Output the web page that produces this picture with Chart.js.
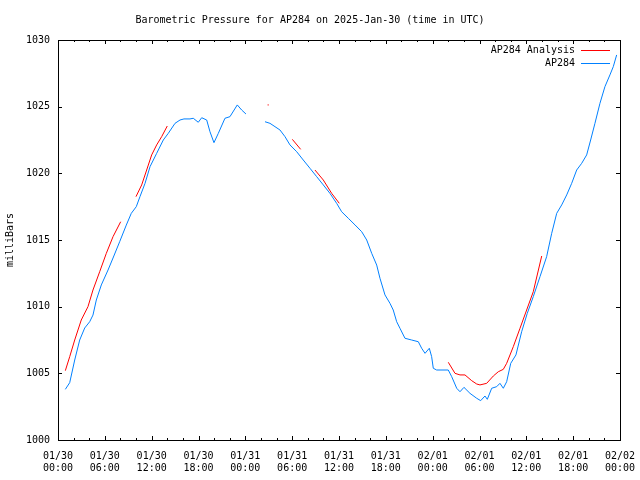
<!DOCTYPE html>
<html>
<head>
<meta charset="utf-8">
<script src="https://cdn.jsdelivr.net/npm/chart.js@4.4.0/dist/chart.umd.min.js"></script>
<style>
  html, body { margin: 0; padding: 0; background: #fff; }
  canvas { display: block; }
</style>
</head>
<body>
<canvas id="chart" width="640" height="480"></canvas>
<script>
// Tick labels, one per 6 hours
const tickDates = ['01/30', '01/30', '01/30', '01/30', '01/31', '01/31', '01/31', '01/31', '02/01', '02/01', '02/01', '02/01', '02/02'];
const tickTimes = ['00:00', '06:00', '12:00', '18:00', '00:00', '06:00', '12:00', '18:00', '00:00', '06:00', '12:00', '18:00', '00:00'];

// AP284 station readings (hours since 01/30 00:00 UTC, millibars), null = gap
const stationHours = [0.94, 1.5, 2.14, 2.78, 3.42, 4.06, 4.48, 4.91, 5.55, 6.41, 7.05, 7.9, 8.75, 9.39, 10.03, 10.5, 11.15, 11.79, 12.64, 13.49, 14.13, 14.99, 15.63, 16.14, 16.91, 17.33, 17.97, 18.41, 19.05, 19.47, 19.98, 20.54, 21.39, 22.03, 22.97, 23.53, 24.08,
  25.3,
  26.52, 27.16, 27.8, 28.44, 29.08, 29.72, 30.58, 31.42, 32.28, 33.14, 33.99, 34.84, 35.7, 36.34, 37.19, 38.05, 38.91, 39.55, 40.19, 40.83, 41.25, 41.89, 42.53, 42.95, 43.39, 43.81, 44.45, 45.31, 46.16, 46.59, 47.02, 47.57, 47.87, 48.08, 48.51, 50.0, 50.44, 51.08, 51.5, 52.01, 52.78, 53.64, 54.15, 54.7, 55.0, 55.56, 56.2, 56.62, 57.05, 57.48, 58.0, 58.67, 59.4, 60.12, 60.89, 61.75, 62.6, 63.25, 63.89, 64.53, 65.17, 65.81, 66.45, 67.09, 67.73, 68.24, 68.79, 69.43, 70.07, 70.71, 71.14, 71.57];
const stationPressure = [1003.8, 1004.3, 1006.0, 1007.5, 1008.4, 1008.87, 1009.37, 1010.5, 1011.63, 1012.75, 1013.65, 1014.87, 1016.12, 1017.0, 1017.5, 1018.25, 1019.25, 1020.5, 1021.5, 1022.5, 1023.0, 1023.75, 1024.0, 1024.08, 1024.08, 1024.13, 1023.83, 1024.17, 1024.0, 1023.12, 1022.3, 1023.0, 1024.13, 1024.25, 1025.13, 1024.75, 1024.45,
  null,
  1023.87, 1023.75, 1023.5, 1023.25, 1022.75, 1022.13, 1021.62, 1021.0, 1020.38, 1019.75, 1019.13, 1018.5, 1017.75, 1017.12, 1016.63, 1016.13, 1015.62, 1015.0, 1014.0, 1013.12, 1012.13, 1010.88, 1010.25, 1009.75, 1008.87, 1008.38, 1007.63, 1007.5, 1007.37, 1006.88, 1006.5, 1006.88, 1006.25, 1005.38, 1005.25, 1005.25, 1004.75, 1003.88, 1003.62, 1003.95, 1003.5, 1003.13, 1002.95, 1003.3, 1003.05, 1003.88, 1004.0, 1004.25, 1003.88, 1004.37, 1005.75, 1006.38, 1008.12, 1009.5, 1010.75, 1012.25, 1013.75, 1015.5, 1017.0, 1017.63, 1018.38, 1019.25, 1020.25, 1020.75, 1021.38, 1022.5, 1023.75, 1025.25, 1026.5, 1027.38, 1028.0, 1028.88];

// AP284 analysis, null = gap
const analysisHours = [0.94, 1.5, 2.14, 2.98, 3.84, 4.48, 5.34, 6.19, 7.05, 8.03,
  9.0,
  9.99, 10.72, 11.36, 12.0, 12.64, 13.28, 14.0,
  20.0,
  26.85, 27.0,
  28.5,
  30.02, 31.09,
  32.0,
  32.92, 33.99, 35.06, 36.04,
  43.0,
  50.0, 50.86, 51.5, 52.14, 53.0, 53.64, 54.06, 54.92, 55.77, 56.41, 57.05, 57.48, 58.33, 59.19, 60.04, 60.89, 61.97];
const analysisPressure = [1005.2, 1006.25, 1007.5, 1009.0, 1010.0, 1011.25, 1012.62, 1014.0, 1015.25, 1016.37,
  null,
  1018.25, 1019.13, 1020.25, 1021.38, 1022.13, 1022.75, 1023.55,
  null,
  1025.13, 1025.13,
  null,
  1022.55, 1021.8,
  null,
  1020.25, 1019.5, 1018.5, 1017.75,
  null,
  1005.83, 1005.0, 1004.88, 1004.88, 1004.45, 1004.2, 1004.13, 1004.25, 1004.8, 1005.12, 1005.3, 1005.75, 1007.0, 1008.38, 1009.75, 1011.12, 1013.8];

function toPoints(xs, ys) {
  return xs.map((x, i) => ({ x: x, y: ys[i] }));
}

const FONT = "'DejaVu Sans Mono', 'Liberation Mono', monospace";
Chart.defaults.font.family = FONT;
Chart.defaults.font.size = 10;
Chart.defaults.color = '#000';

// gnuplot style frame with inward ticks on all four sides
const framePlugin = {
  id: 'frame',
  afterDraw(chart) {
    const { ctx, chartArea: a, scales } = chart;
    ctx.save();
    ctx.strokeStyle = '#000';
    ctx.lineWidth = 1;
    ctx.beginPath();
    for (let h = 0; h <= 72; h += 2) {
      const x = Math.round(scales.x.getPixelForValue(h)) + 0.5;
      const len = h % 6 === 0 ? 4 : 2;
      ctx.moveTo(x, a.bottom); ctx.lineTo(x, a.bottom - len);
      ctx.moveTo(x, a.top); ctx.lineTo(x, a.top + len);
    }
    for (let p = 1000; p <= 1030; p += 5) {
      const y = Math.round(scales.y.getPixelForValue(p)) + 0.5;
      ctx.moveTo(a.left, y); ctx.lineTo(a.left + 4, y);
      ctx.moveTo(a.right, y); ctx.lineTo(a.right - 4, y);
    }
    ctx.stroke();
    ctx.strokeRect(Math.round(a.left) + 0.5, Math.round(a.top) + 0.5,
      Math.round(a.right - a.left), Math.round(a.bottom - a.top));

    // key, top right inside the plot
    ctx.font = '10px ' + FONT;
    ctx.textAlign = 'right';
    ctx.textBaseline = 'middle';
    chart.data.datasets.forEach((ds, i) => {
      const y = Math.round(a.top + 10 + i * 13) + 0.5;
      ctx.fillStyle = '#000';
      ctx.fillText(ds.label, a.right - 45, y);
      ctx.strokeStyle = ds.borderColor;
      ctx.beginPath();
      ctx.moveTo(a.right - 39, y);
      ctx.lineTo(a.right - 10, y);
      ctx.stroke();
    });
    ctx.restore();
  }
};

new Chart(document.getElementById('chart'), {
  type: 'line',
  data: {
    datasets: [{
      label: 'AP284 Analysis',
      data: toPoints(analysisHours, analysisPressure),
      borderColor: 'rgb(255, 0, 0)',
      borderWidth: 1,
      pointRadius: 0,
      tension: 0,
      spanGaps: false
    }, {
      label: 'AP284',
      data: toPoints(stationHours, stationPressure),
      borderColor: 'rgb(0, 128, 255)',
      borderWidth: 1,
      pointRadius: 0,
      tension: 0,
      spanGaps: false
    }]
  },
  options: {
    responsive: false,
    animation: false,
    layout: { padding: { left: 0, right: 20, top: 0, bottom: 0 } },
    plugins: {
      legend: { display: false },
      tooltip: { enabled: false },
      title: {
        display: true,
        text: 'Barometric Pressure for AP284 on 2025-Jan-30 (time in UTC)',
        font: { size: 10, weight: 'normal' },
        padding: { top: 14, bottom: 14 }
      }
    },
    scales: {
      x: {
        type: 'linear',
        min: 0,
        max: 72,
        grid: { display: false },
        border: { display: false },
        ticks: {
          stepSize: 6,
          padding: 2,
          maxRotation: 0,
          autoSkip: false,
          callback: (v) => [tickDates[v / 6], tickTimes[v / 6]]
        },
        afterFit: (scale) => {
          scale.height = 40;
          scale.paddingLeft = 0;
          scale.paddingRight = 0;
        }
      },
      y: {
        min: 1000,
        max: 1030,
        grid: { display: false },
        border: { display: false },
        ticks: { stepSize: 5, padding: 0, callback: (v) => String(v) },
        title: { display: true, text: 'milliBars', font: { size: 10 }, padding: { top: 4, bottom: 0 } },
        afterFit: (scale) => { scale.width = 58; }
      }
    }
  },
  plugins: [framePlugin]
});
</script>
</body>
</html>
